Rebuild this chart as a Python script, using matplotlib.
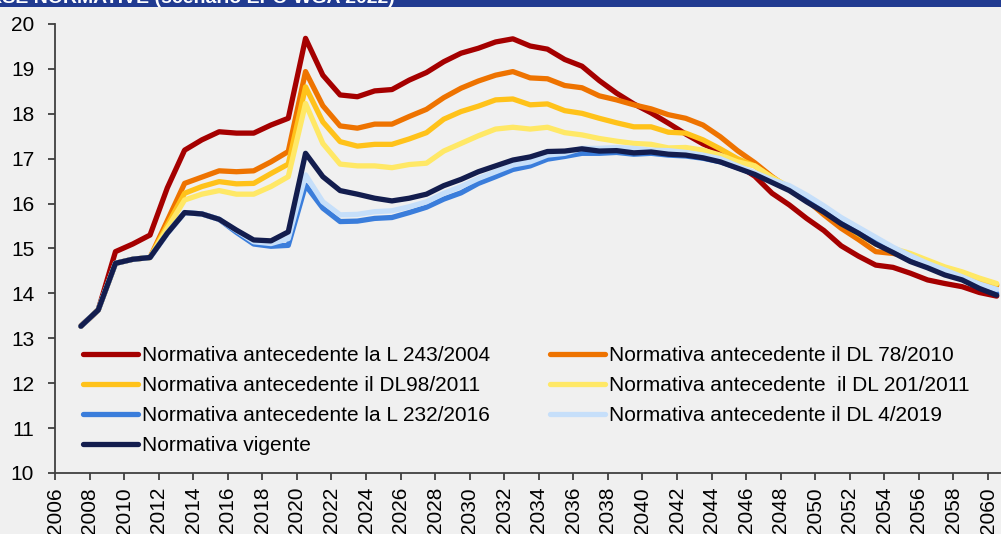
import matplotlib
matplotlib.use("Agg")
import matplotlib.pyplot as plt
import numpy as np

plt.rcParams['font.family'] = ['Liberation Sans', 'DejaVu Sans']

years = list(range(2007, 2061))

l243_2004 = [13.27, 13.63, 14.93, 15.10, 15.30, 16.35, 17.19, 17.42, 17.60, 17.57, 17.57, 17.75, 17.90,
             19.68, 18.86, 18.42, 18.38, 18.51, 18.54, 18.75, 18.92, 19.16, 19.35,
             19.46, 19.60, 19.67, 19.51, 19.44, 19.21, 19.06, 18.74, 18.46, 18.22,
             18.02, 17.79, 17.55, 17.33, 17.16, 16.86, 16.61, 16.23, 15.97, 15.67,
             15.40, 15.06, 14.83, 14.63, 14.58, 14.45, 14.30, 14.22, 14.15, 14.02,
             13.94]

dl78_2010 = [13.27, 13.63, 14.67, 14.76, 14.80, 15.62, 16.45, 16.59, 16.73, 16.71, 16.73, 16.93, 17.16,
             18.94, 18.18, 17.73, 17.68, 17.77, 17.77, 17.94, 18.10, 18.36, 18.57,
             18.73, 18.86, 18.94, 18.80, 18.78, 18.63, 18.58, 18.40, 18.31, 18.20,
             18.11, 17.98, 17.90, 17.75, 17.49, 17.18, 16.91, 16.60, 16.33, 16.08,
             15.75, 15.45, 15.20, 14.93, 14.89, 14.82, 14.68, 14.54, 14.44, 14.30,
             14.18]

dl98_2011 = [13.27, 13.63, 14.67, 14.76, 14.80, 15.52, 16.23, 16.38, 16.49, 16.44, 16.45, 16.67, 16.88,
             18.60, 17.82, 17.38, 17.28, 17.32, 17.32, 17.44, 17.58, 17.88, 18.05,
             18.17, 18.31, 18.33, 18.20, 18.22, 18.07, 18.01, 17.90, 17.80, 17.71,
             17.71, 17.59, 17.57, 17.42, 17.22, 17.00, 16.84, 16.58, 16.36, 16.12,
             15.86, 15.58, 15.32, 15.10, 14.97, 14.85, 14.71, 14.57, 14.46, 14.32,
             14.20]

dl201_2011 = [13.27, 13.63, 14.67, 14.76, 14.80, 15.45, 16.08, 16.21, 16.29, 16.21, 16.21, 16.38, 16.60,
              18.23, 17.34, 16.88, 16.84, 16.84, 16.80, 16.87, 16.90, 17.17, 17.34,
              17.51, 17.66, 17.70, 17.66, 17.70, 17.58, 17.53, 17.45, 17.39, 17.34,
              17.32, 17.24, 17.25, 17.19, 17.08, 16.93, 16.84, 16.58, 16.37, 16.13,
              15.88, 15.62, 15.37, 15.14, 15.00, 14.89, 14.74, 14.59, 14.48, 14.34,
              14.22]

l232_2016 = [13.27, 13.63, 14.67, 14.76, 14.80, 15.34, 15.80, 15.77, 15.65, 15.36, 15.10, 15.05, 15.07,
             16.41, 15.90, 15.60, 15.61, 15.67, 15.69, 15.80, 15.92, 16.10, 16.24,
             16.45, 16.60, 16.76, 16.84, 16.99, 17.05, 17.12, 17.12, 17.14, 17.10,
             17.12, 17.08, 17.06, 17.01, 16.93, 16.80, 16.66, 16.49, 16.32, 16.08,
             15.85, 15.60, 15.39, 15.16, 14.96, 14.76, 14.61, 14.45, 14.33, 14.15,
             14.00]

dl4_2019 = [13.27, 13.63, 14.67, 14.76, 14.80, 15.34, 15.80, 15.77, 15.65, 15.40, 15.15, 15.11, 15.22,
            16.64, 16.04, 15.75, 15.76, 15.82, 15.84, 15.93, 16.04, 16.23, 16.38,
            16.56, 16.71, 16.86, 16.93, 17.08, 17.12, 17.23, 17.23, 17.25, 17.23,
            17.19, 17.18, 17.14, 17.08, 17.00, 16.84, 16.69, 16.53, 16.40, 16.19,
            15.95, 15.69, 15.47, 15.25, 15.03, 14.84, 14.67, 14.52, 14.37, 14.21,
            14.09]

vigente = [13.27, 13.63, 14.67, 14.76, 14.80, 15.34, 15.80, 15.77, 15.65, 15.41, 15.19, 15.17, 15.37,
           17.12, 16.60, 16.29, 16.21, 16.12, 16.06, 16.12, 16.21, 16.40, 16.54,
           16.71, 16.84, 16.97, 17.04, 17.16, 17.17, 17.22, 17.17, 17.18, 17.13,
           17.15, 17.10, 17.08, 17.02, 16.93, 16.79, 16.65, 16.47, 16.29, 16.04,
           15.81, 15.55, 15.34, 15.10, 14.91, 14.71, 14.57, 14.41, 14.30, 14.11,
           13.96]

labels = ["Normativa antecedente la L 243/2004",
          "Normativa antecedente il DL 78/2010",
          "Normativa antecedente il DL98/2011",
          "Normativa antecedente  il DL 201/2011",
          "Normativa antecedente la L 232/2016",
          "Normativa antecedente il DL 4/2019",
          "Normativa vigente"]
series = [l243_2004, dl78_2010, dl98_2011, dl201_2011, l232_2016, dl4_2019, vigente]
colors = ["#A50000", "#EE7300", "#FFC21A", "#FFE866", "#3A7DDB", "#C6DFFA", "#131D4E"]

xticks = list(range(2006, 2061, 2))
yticks = list(range(10, 21))

bg = "#F0F0F0"
W, H = 1001, 534
fig = plt.figure(figsize=(W / 100, H / 100), dpi=100, facecolor=bg)
ax = fig.add_axes([55 / W, (H - 473) / H, 1 - 55 / W, (473 - 24) / H])
ax.set_facecolor(bg)

x = np.array(years) + 0.5
handles = []
for s, c, lab in zip(series, colors, labels):
    h, = ax.plot(x, s, color=c, lw=3.8, solid_capstyle='round', solid_joinstyle='round', label=lab)
    handles.append(h)

ax.set_xlim(2006, 2060.75)
ax.set_ylim(10, 20)
ax.set_xticks(xticks)
ax.set_xticklabels([str(t) for t in xticks], rotation=90)
ax.set_yticks(yticks)
for sp in ['top', 'right']:
    ax.spines[sp].set_visible(False)
for sp in ['left', 'bottom']:
    ax.spines[sp].set_color('#404040')
    ax.spines[sp].set_linewidth(1.3)
ax.tick_params(axis='both', colors='#404040', labelcolor='black', labelsize=15,
               length=5, width=1.3, direction='out')
ax.tick_params(axis='y', pad=10)
ax.tick_params(axis='x', pad=5)

leg_kw = dict(frameon=False, fontsize=15, handlelength=2.64, handletextpad=0.2,
              labelspacing=0.53, borderpad=0, borderaxespad=0, loc='upper left')
order1 = [0, 2, 4, 6]
order2 = [1, 3, 5]
leg1 = ax.legend([handles[i] for i in order1], [labels[i] for i in order1],
                 bbox_to_anchor=(83 / W, 1 - 346 / H), bbox_transform=fig.transFigure, **leg_kw)
ax.add_artist(leg1)
leg2 = ax.legend([handles[i] for i in order2], [labels[i] for i in order2],
                 bbox_to_anchor=(550 / W, 1 - 346 / H), bbox_transform=fig.transFigure, **leg_kw)

# header band (cropped title, as in the reference)
fig.patches.append(plt.Rectangle((0, 1 - 7 / H), 1, 7 / H, transform=fig.transFigure,
                                 facecolor="#213B91", edgecolor='none', zorder=0))
fig.text(395 / W, 1 - 3 / H, "SPESA PENSIONISTICA IN RAPPORTO AL PIL PER DIVERSE NORMATIVE (scenario EPC-WGA 2022)",
         ha='right', va='baseline', color='white', fontsize=14, fontweight='bold')

fig.savefig("out.png", dpi=100, facecolor=bg)
